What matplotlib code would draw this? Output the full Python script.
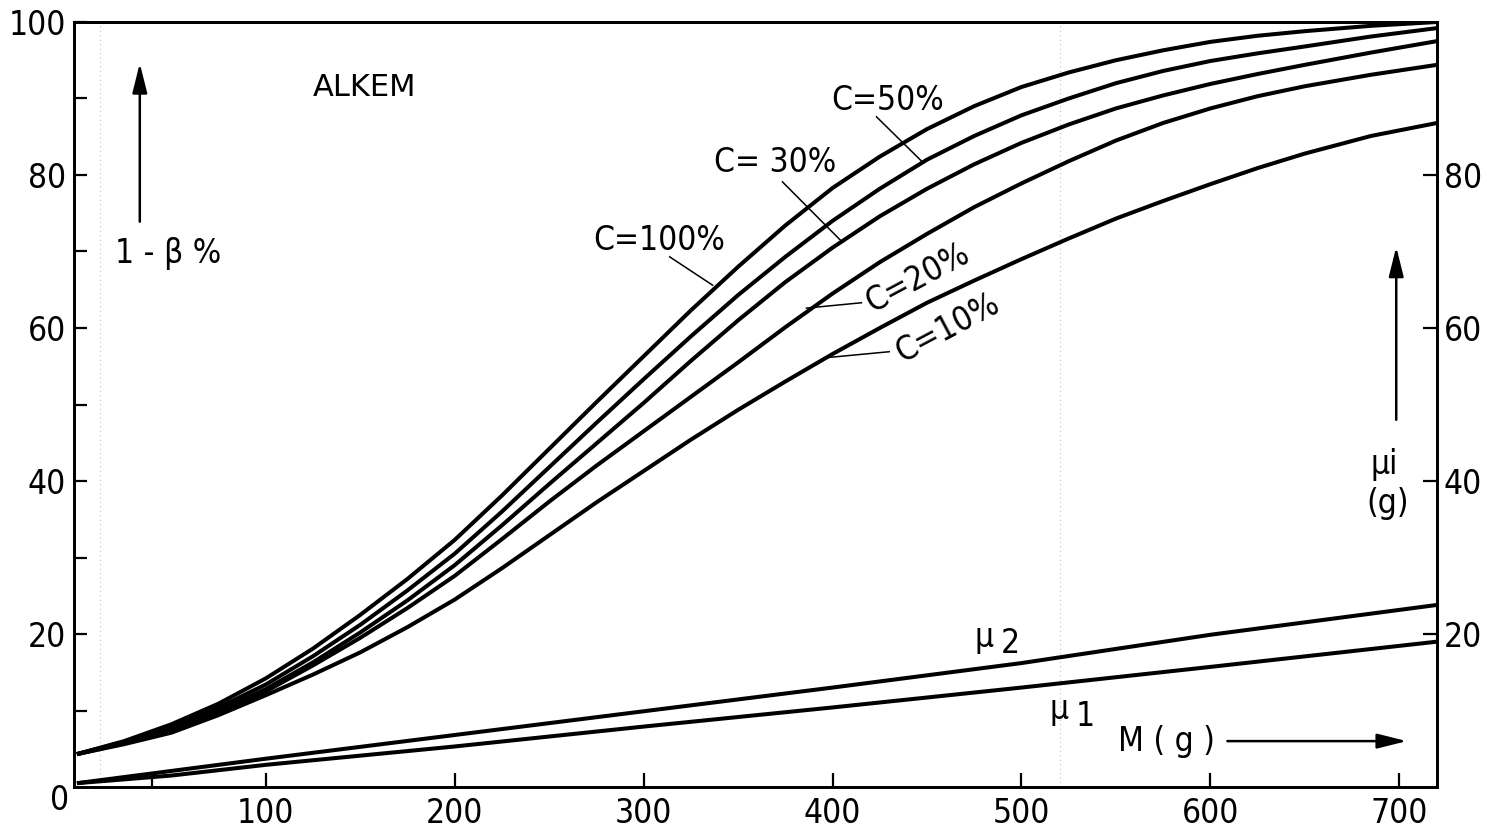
import matplotlib.pyplot as plt

plt.rcParams["font.family"] = ["DejaVu Sans"]
plt.rcParams["font.stretch"] = "condensed"

# detection probability 1-beta (%) against mass M (g), one curve per C
M = [0, 25, 50, 75, 100, 125, 150, 175, 200, 225, 250, 275, 300, 325, 350,
     375, 400, 425, 450, 475, 500, 525, 550, 575, 600, 625, 650, 685, 720]
C100 = [4.3, 6.0, 8.2, 10.9, 14.2, 18.1, 22.5, 27.2, 32.3, 38.1, 44.2, 50.3, 56.3, 62.3, 68.0,
        73.4, 78.3, 82.4, 86.0, 89.0, 91.5, 93.4, 95.0, 96.3, 97.4, 98.2, 98.8, 99.5, 100.0]
C50 = [4.3, 5.9, 7.8, 10.4, 13.4, 17.1, 21.2, 25.7, 30.5, 36.0, 41.8, 47.6, 53.3, 58.9, 64.3,
       69.3, 74.0, 78.2, 82.0, 85.1, 87.8, 90.0, 92.0, 93.6, 94.9, 95.9, 96.8, 98.1, 99.2]
C30 = [4.3, 5.8, 7.5, 10.0, 12.8, 16.3, 20.2, 24.4, 29.0, 34.2, 39.6, 44.9, 50.2, 55.7, 61.0,
       66.0, 70.5, 74.6, 78.2, 81.4, 84.2, 86.6, 88.7, 90.4, 91.9, 93.2, 94.4, 96.0, 97.5]
C20 = [4.3, 5.7, 7.3, 9.8, 12.5, 15.9, 19.5, 23.4, 27.6, 32.4, 37.3, 42.0, 46.5, 51.0, 55.5,
       60.1, 64.5, 68.6, 72.3, 75.8, 78.9, 81.8, 84.5, 86.8, 88.7, 90.3, 91.6, 93.1, 94.4]
C10 = [4.3, 5.6, 7.1, 9.4, 12.0, 14.7, 17.6, 20.9, 24.5, 28.6, 32.9, 37.2, 41.3, 45.4, 49.3,
       53.0, 56.6, 60.0, 63.3, 66.2, 69.0, 71.7, 74.3, 76.6, 78.8, 80.9, 82.8, 85.1, 86.8]

# mu_i (g) against M (g)
M_MU = [0, 50, 100, 200, 300, 400, 500, 600, 720]
MU2 = [0.5, 2.1, 3.7, 6.8, 9.9, 13.0, 16.2, 19.9, 23.8]
MU1 = [0.5, 1.5, 2.9, 5.3, 7.9, 10.4, 13.0, 15.7, 19.0]

X_TICKS = [100, 200, 300, 400, 500, 600, 700]
LEFT_TICKS = [20, 40, 60, 80, 100]
LEFT_MINOR = [10, 30, 50, 70, 90]
RIGHT_TICKS = [20, 40, 60, 80]

FS = 24
LW = 2.9

fig = plt.figure(figsize=(14.87, 8.33), dpi=100)
ax = fig.add_axes([0.0498, 0.0552, 0.9166, 0.9184])

for ys in (C100, C50, C30, C20, C10):
    ax.plot(M, ys, color="black", lw=LW, solid_capstyle="butt", zorder=3)
for ys in (MU2, MU1):
    ax.plot(M_MU, ys, color="black", lw=LW, solid_capstyle="butt", zorder=3)

# faint scan marks
for xv in (12.2, 520.6):
    ax.axvline(xv, color="0.75", lw=0.8, ls=(0, (1, 3)), zorder=0)

ax.set_xlim(-1.5, 720)
ax.set_ylim(0, 100)
for sp in ax.spines.values():
    sp.set_linewidth(2.0)

ax.set_xticks(X_TICKS)
ax.set_xticklabels([str(v) for v in X_TICKS])
ax.set_xticks([40], minor=True)
ax.set_yticks(LEFT_TICKS)
ax.set_yticklabels([str(v) for v in LEFT_TICKS])
ax.set_yticks(LEFT_MINOR, minor=True)
ax.tick_params(axis="x", which="major", direction="in", length=10, width=1.6,
               labelsize=FS, pad=7, top=False)
ax.tick_params(axis="x", which="minor", direction="in", length=6, width=1.6, top=False)
ax.tick_params(axis="y", which="both", direction="in", length=9, width=1.6,
               labelsize=FS, pad=6, right=False)

ax2 = ax.twinx()
ax2.set_ylim(0, 100)
ax2.set_yticks(RIGHT_TICKS)
ax2.set_yticklabels([str(v) for v in RIGHT_TICKS])
ax2.tick_params(axis="y", direction="in", length=10, width=1.6, labelsize=FS, pad=5)
for sp in ax2.spines.values():
    sp.set_linewidth(2.0)

# shared origin label
ax.text(-0.0106, -0.018, "0", transform=ax.transAxes, ha="center", va="center", fontsize=FS)

# curve labels with leader lines
labels = [
    ("C=100%", (308.5, 71.5), (313.8, 69.3), (336.5, 65.6), 0),
    ("C=50%", (429.0, 89.8), (423.3, 87.6), (447.6, 81.7), 0),
    ("C= 30%", (369.8, 81.6), (373.5, 79.1), (405.3, 71.2), 0),
    ("C=20%", (445.0, 66.5), (415.3, 63.3), (386.2, 62.6), 28),
    ("C=10%", (461.0, 60.0), (430.0, 56.9), (395.8, 56.1), 28),
]
for txt, tpos, p0, p1, rot in labels:
    ax.text(tpos[0], tpos[1], txt, ha="center", va="center", rotation=rot,
            fontsize=FS, rotation_mode="anchor")
    ax.plot([p0[0], p1[0]], [p0[1], p1[1]], color="black", lw=1.1, zorder=2)

arrow = dict(arrowstyle="-|>,head_length=0.6,head_width=0.15", mutation_scale=30,
             color="black", lw=1.8, shrinkA=0, shrinkB=0)

ax.text(152.4, 91.5, "ALKEM", ha="center", va="center", fontsize=22, fontstretch="normal")
ax.annotate("", xy=(33.3, 94.6), xytext=(33.3, 73.9), arrowprops=arrow)
ax.text(20.1, 69.8, "1 - β %", ha="left", va="center", fontsize=FS)

ax.annotate("", xy=(698.4, 70.6), xytext=(698.4, 48.0), arrowprops=arrow)
ax.text(692.0, 42.1, "μi", ha="center", va="center", fontsize=FS)
ax.text(693.7, 37.1, "(g)", ha="center", va="center", fontsize=FS)

ax.text(577.0, 5.9, "M ( g )", ha="center", va="center", fontsize=FS)
ax.annotate("", xy=(704.0, 6.0), xytext=(609.0, 6.0), arrowprops=arrow)

ax.text(480.4, 19.6, "μ", ha="center", va="center", fontsize=FS)
ax.text(494.2, 18.8, "2", ha="center", va="center", fontsize=FS)
ax.text(520.0, 10.1, "μ", ha="center", va="center", fontsize=FS)
ax.text(533.9, 9.2, "1", ha="center", va="center", fontsize=FS)

fig.savefig("out.png", dpi=100)
